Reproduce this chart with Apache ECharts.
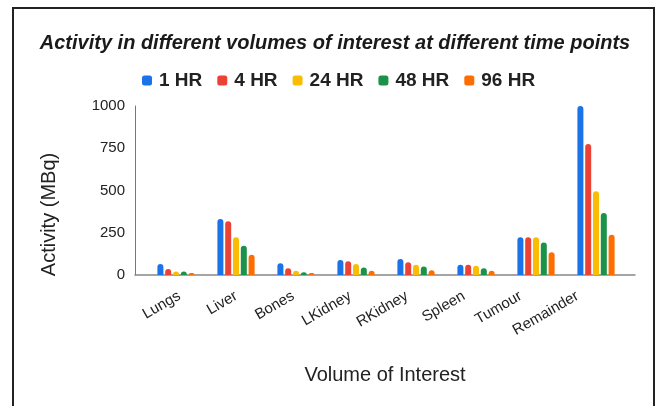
<!DOCTYPE html>
<html>
<head>
<meta charset="utf-8">
<script src="https://cdn.jsdelivr.net/npm/echarts@6/dist/echarts.min.js"></script>
<style>
  html, body { margin: 0; padding: 0; background: #fff; }
  #chart { width: 657px; height: 406px; }
</style>
</head>
<body>
<div id="chart"></div>
<script>
// values (MBq)
const volumes = ['Lungs', 'Liver', 'Bones', 'LKidney', 'RKidney', 'Spleen', 'Tumour', 'Remainder'];
const hr1 = [65, 331, 69, 89, 95, 61, 223, 1000];
const hr4 = [35, 318, 40, 81, 75, 61, 223, 775];
const hr24 = [20, 223, 25, 65, 61, 55, 223, 495];
const hr48 = [20, 173, 16, 45, 51, 40, 193, 367];
const hr96 = [12, 120, 12, 25, 28, 25, 134, 238];
const timeNames = ['1 HR', '4 HR', '24 HR', '48 HR', '96 HR'];
const yTicks = [0, 250, 500, 750, 1000];

const colors = ['#1a73e8', '#ea4335', '#fbbc04', '#1a9248', '#ff6d01'];
const font = 'Liberation Sans, Arial, sans-serif';

const chart = echarts.init(document.getElementById('chart'));

const hiddenY = (idx) => ({
  type: 'value', gridIndex: idx, min: yTicks[0], max: yTicks[yTicks.length - 1], interval: 250,
  show: false, splitLine: { show: false },
});

const option = {
  backgroundColor: '#fff',
  color: colors,
  animation: false,
  title: {
    text: 'Activity in different volumes of interest at different time points',
    left: 330,
    textAlign: 'center',
    top: 28,
    textStyle: { fontFamily: font, fontSize: 20, fontWeight: 'bold', fontStyle: 'italic', color: '#1a1a1a' },
  },
  legend: {
    data: timeNames,
    left: 137,
    top: 66,
    icon: 'roundRect',
    itemWidth: 10,
    itemHeight: 10,
    itemGap: 15,
    textStyle: { fontFamily: font, fontSize: 19, fontWeight: 'bold', color: '#222', padding: [0, 0, 0, 2] },
  },
  graphic: [{
    type: 'rect',
    shape: { x: 13, y: 8, width: 641, height: 420 },
    style: { fill: 'none', stroke: '#222', lineWidth: 2 },
    silent: true,
  }],
  grid: [
    // axis frame
    { left: 135, right: 22, top: 106, bottom: 131 },
    // bars
    { left: 146, right: 31, top: 106, bottom: 131 },
    // rotated category labels
    { left: 151, right: 51, top: 106, bottom: 131 },
  ],
  xAxis: [
    {
      type: 'category', gridIndex: 0, data: volumes,
      axisLine: { lineStyle: { color: '#888', width: 1.5 } },
      axisTick: { show: false }, axisLabel: { show: false },
      name: 'Volume of Interest', nameLocation: 'middle', nameGap: 90,
      nameTextStyle: { fontFamily: font, fontSize: 20, color: '#222' },
    },
    {
      type: 'category', gridIndex: 1, data: volumes,
      axisLine: { show: false }, axisTick: { show: false }, axisLabel: { show: false },
    },
    {
      type: 'category', gridIndex: 2, data: volumes,
      axisLine: { show: false }, axisTick: { show: false },
      axisLabel: { rotate: 30, margin: 20, fontFamily: font, fontSize: 15, color: '#222' },
    },
  ],
  yAxis: [
    {
      type: 'value', gridIndex: 0, min: yTicks[0], max: yTicks[yTicks.length - 1], interval: 250,
      axisLine: { show: true, lineStyle: { color: '#777', width: 1 } },
      axisTick: { show: false },
      splitLine: { show: false },
      axisLabel: { margin: 10, fontFamily: font, fontSize: 15, color: '#222', formatter: (v) => String(v) },
      name: 'Activity (MBq)', nameLocation: 'middle', nameGap: 76,
      nameTextStyle: { fontFamily: font, fontSize: 20, color: '#222', padding: [0, 48, 0, 0] },
    },
    hiddenY(1),
    hiddenY(2),
  ],
  series: [hr1, hr4, hr24, hr48, hr96].map((vals, i) => ({
    name: timeNames[i],
    type: 'bar',
    xAxisIndex: 1,
    yAxisIndex: 1,
    barWidth: 6,
    barGap: '30%',
    itemStyle: { borderRadius: [3, 3, 0, 0] },
    data: vals,
  })),
};

chart.setOption(option);
</script>
</body>
</html>
